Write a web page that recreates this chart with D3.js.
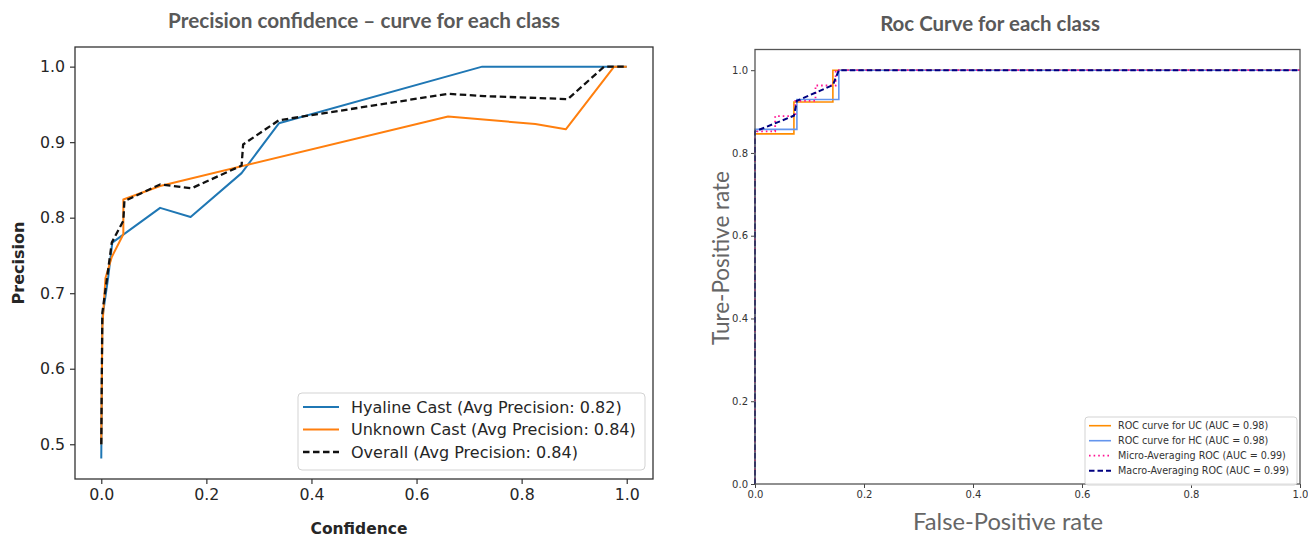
<!DOCTYPE html>
<html>
<head>
<meta charset="utf-8">
<script src="https://cdn.jsdelivr.net/npm/d3@7"></script>
<style>
  html, body { margin: 0; padding: 0; background: #fff; }
  svg { display: block; }
</style>
</head>
<body>
<svg id="chart" width="1308" height="538"></svg>
<script>
// ---- Precision / confidence curves ----
const hyalineConf = [0, 0.002, 0.013, 0.021, 0.112, 0.170, 0.267, 0.338, 0.725, 1.0];
const hyalinePrec = [0.481, 0.667, 0.720, 0.767, 0.813, 0.801, 0.859, 0.925, 1.0, 1.0];

const unknownConf = [0, 0.002, 0.008, 0.020, 0.042, 0.042, 0.112, 0.660, 0.826, 0.884, 0.976, 1.0];
const unknownPrec = [0.50, 0.655, 0.720, 0.748, 0.778, 0.824, 0.842, 0.934, 0.924, 0.917, 1.0, 1.0];

const overallConf = [0, 0.002, 0.010, 0.020, 0.042, 0.044, 0.112, 0.172, 0.267, 0.270, 0.338, 0.660, 0.729, 0.888, 0.957, 1.0];
const overallPrec = [0.50, 0.674, 0.715, 0.767, 0.796, 0.822, 0.844, 0.839, 0.869, 0.897, 0.929, 0.964, 0.961, 0.957, 1.0, 1.0];

const prLabels = [
  "Hyaline Cast (Avg Precision: 0.82)",
  "Unknown Cast (Avg Precision: 0.84)",
  "Overall (Avg Precision: 0.84)"
];
const prXTicks = [0, 0.2, 0.4, 0.6, 0.8, 1.0];
const prYTicks = [0.5, 0.6, 0.7, 0.8, 0.9, 1.0];

// ---- ROC curves ----
const ucFpr = [0, 0, 0.0714, 0.0714, 0.1429, 0.1429, 1];
const ucTpr = [0, 0.846, 0.846, 0.923, 0.923, 1, 1];

const hcFpr = [0, 0, 0.0769, 0.0769, 0.1538, 0.1538, 1];
const hcTpr = [0, 0.857, 0.857, 0.929, 0.929, 1, 1];

const microFpr = [0, 0, 0.037, 0.037, 0.074, 0.074, 0.111, 0.111, 0.148, 0.148, 1];
const microTpr = [0, 0.852, 0.852, 0.889, 0.889, 0.926, 0.926, 0.963, 0.963, 1, 1];

const macroFpr = [0, 0, 0.0714, 0.0769, 0.1429, 0.1538, 1];
const macroTpr = [0, 0.852, 0.890, 0.926, 0.964, 1, 1];

const rocLabels = [
  "ROC curve for UC (AUC = 0.98)",
  "ROC curve for HC (AUC = 0.98)",
  "Micro-Averaging ROC (AUC = 0.99)",
  "Macro-Averaging ROC (AUC = 0.99)"
];
const rocTicks = [0, 0.2, 0.4, 0.6, 0.8, 1.0];

const svg = d3.select("#chart");
const mpl = "DejaVu Sans, sans-serif";
const office = "Lato, 'Open Sans', sans-serif";

// scale a text's font size so it spans a given width
function fitWidth(sel, target) {
  const node = sel.node();
  const fs = parseFloat(sel.attr("font-size"));
  const w = node.getComputedTextLength();
  if (w > 0) sel.attr("font-size", (fs * target / w).toFixed(2));
  return sel;
}

const zip = (xs, ys) => xs.map((x, i) => [x, ys[i]]);

// =============== Left panel: precision vs confidence ===============
const L = { left: 75, right: 653, top: 47, bottom: 479 };
const lx = d3.scaleLinear().domain([-0.05, 1.05]).range([L.left, L.right]);
const ly = d3.scaleLinear().domain([0.454, 1.026]).range([L.bottom, L.top]);

const left = svg.append("g");

const lxAxis = left.append("g")
  .attr("transform", `translate(0,${L.bottom})`)
  .call(d3.axisBottom(lx).tickValues(prXTicks).tickFormat(d3.format(".1f")).tickSizeOuter(0).tickSize(5).tickPadding(5));
const lyAxis = left.append("g")
  .attr("transform", `translate(${L.left},0)`)
  .call(d3.axisLeft(ly).tickValues(prYTicks).tickFormat(d3.format(".1f")).tickSizeOuter(0).tickSize(5).tickPadding(5));
[lxAxis, lyAxis].forEach(a => {
  a.select(".domain").remove();
  a.selectAll("line").attr("stroke", "#333").attr("stroke-width", 1.2);
  a.selectAll("text").attr("font-family", mpl).attr("font-size", 15.8).attr("fill", "#262626");
});

const lline = d3.line().x(d => lx(d[0])).y(d => ly(d[1]));
const prSeries = [
  { pts: zip(hyalineConf, hyalinePrec), color: "#1f77b4", dash: null },
  { pts: zip(unknownConf, unknownPrec), color: "#ff7f0e", dash: null },
  { pts: zip(overallConf, overallPrec), color: "#111", dash: "6.5,3.5" }
];
left.append("g").selectAll("path").data(prSeries).join("path")
  .attr("d", d => lline(d.pts))
  .attr("fill", "none")
  .attr("stroke", d => d.color)
  .attr("stroke-width", d => d.dash ? 2.3 : 2)
  .attr("stroke-dasharray", d => d.dash)
  .attr("stroke-linejoin", "round");

left.append("rect")
  .attr("x", L.left).attr("y", L.top)
  .attr("width", L.right - L.left).attr("height", L.bottom - L.top)
  .attr("fill", "none").attr("stroke", "#333").attr("stroke-width", 1.3);

// legend
const lg = left.append("g");
lg.append("rect").attr("x", 298).attr("y", 393).attr("width", 347).attr("height", 77)
  .attr("rx", 4).attr("fill", "#fff").attr("fill-opacity", 0.85)
  .attr("stroke", "#d3d3d3").attr("stroke-width", 1);
prSeries.forEach((s, i) => {
  const y = 407 + i * 22.5;
  lg.append("line").attr("x1", 303).attr("x2", 339).attr("y1", y).attr("y2", y)
    .attr("stroke", s.color).attr("stroke-width", s.dash ? 2.3 : 2)
    .attr("stroke-dasharray", s.dash);
  lg.append("text").attr("x", 351).attr("y", y).attr("dy", "0.36em")
    .attr("font-family", mpl).attr("font-size", 16).attr("fill", "#262626")
    .text(prLabels[i]);
});

// titles / labels
fitWidth(svg.append("text").attr("x", 364).attr("y", 28).attr("text-anchor", "middle")
  .attr("font-family", office).attr("font-weight", 700).attr("font-size", 19).attr("fill", "#595959")
  .text("Precision confidence – curve for each class"), 392);

svg.append("text").attr("x", 359).attr("y", 534).attr("text-anchor", "middle")
  .attr("font-family", mpl).attr("font-weight", 700).attr("font-size", 15.5).attr("fill", "#262626")
  .text("Confidence");

svg.append("text").attr("transform", "translate(24,263) rotate(-90)").attr("text-anchor", "middle")
  .attr("font-family", mpl).attr("font-weight", 700).attr("font-size", 16).attr("fill", "#262626")
  .text("Precision");

// =============== Right panel: ROC ===============
const R = { left: 755, right: 1300, top: 49.5, bottom: 484 };
const rx = d3.scaleLinear().domain([0, 1]).range([R.left, R.right]);
const ry = d3.scaleLinear().domain([0, 1.05]).range([R.bottom, R.top]);

const right = svg.append("g");
const rxAxis = right.append("g")
  .attr("transform", `translate(0,${R.bottom})`)
  .call(d3.axisBottom(rx).tickValues(rocTicks).tickFormat(d3.format(".1f")).tickSizeOuter(0).tickSize(4).tickPadding(3));
const ryAxis = right.append("g")
  .attr("transform", `translate(${R.left},0)`)
  .call(d3.axisLeft(ry).tickValues(rocTicks).tickFormat(d3.format(".1f")).tickSizeOuter(0).tickSize(4).tickPadding(3));
[rxAxis, ryAxis].forEach(a => {
  a.select(".domain").remove();
  a.selectAll("line").attr("stroke", "#444").attr("stroke-width", 1);
  a.selectAll("text").attr("font-family", mpl).attr("font-size", 10).attr("fill", "#333");
});

const rline = d3.line().x(d => rx(d[0])).y(d => ry(d[1]));
const rocSeries = [
  { pts: zip(ucFpr, ucTpr), color: "#ff8c00", dash: null, w: 1.6 },
  { pts: zip(hcFpr, hcTpr), color: "#6495ed", dash: null, w: 1.6 },
  { pts: zip(microFpr, microTpr), color: "#ff1493", dash: "1.6,3", w: 1.8 },
  { pts: zip(macroFpr, macroTpr), color: "#000080", dash: "5.5,3", w: 2 }
];
right.append("g").selectAll("path").data(rocSeries).join("path")
  .attr("d", d => rline(d.pts))
  .attr("fill", "none")
  .attr("stroke", d => d.color)
  .attr("stroke-width", d => d.w)
  .attr("stroke-dasharray", d => d.dash);

right.append("rect")
  .attr("x", R.left).attr("y", R.top)
  .attr("width", R.right - R.left).attr("height", R.bottom - R.top)
  .attr("fill", "none").attr("stroke", "#555").attr("stroke-width", 1.3);

const rg = right.append("g");
rg.append("rect").attr("x", 1085).attr("y", 417).attr("width", 212).attr("height", 68)
  .attr("rx", 3).attr("fill", "#fff").attr("fill-opacity", 0.85)
  .attr("stroke", "#d3d3d3").attr("stroke-width", 1);
rocSeries.forEach((s, i) => {
  const y = 425.7 + i * 15;
  rg.append("line").attr("x1", 1089).attr("x2", 1111).attr("y1", y).attr("y2", y)
    .attr("stroke", s.color).attr("stroke-width", s.w).attr("stroke-dasharray", s.dash);
  rg.append("text").attr("x", 1118).attr("y", y).attr("dy", "0.36em")
    .attr("font-family", mpl).attr("font-size", 9.6).attr("fill", "#333")
    .text(rocLabels[i]);
});

fitWidth(svg.append("text").attr("x", 990).attr("y", 31).attr("text-anchor", "middle")
  .attr("font-family", office).attr("font-weight", 700).attr("font-size", 19).attr("fill", "#595959")
  .text("Roc Curve for each class"), 220);

fitWidth(svg.append("text").attr("x", 1008).attr("y", 530).attr("text-anchor", "middle")
  .attr("font-family", office).attr("font-size", 20).attr("fill", "#666")
  .text("False-Positive rate"), 190);

fitWidth(svg.append("text").attr("transform", "translate(729,258) rotate(-90)").attr("text-anchor", "middle")
  .attr("font-family", office).attr("font-size", 20).attr("fill", "#666")
  .text("Ture-Positive rate"), 174);
</script>
</body>
</html>
